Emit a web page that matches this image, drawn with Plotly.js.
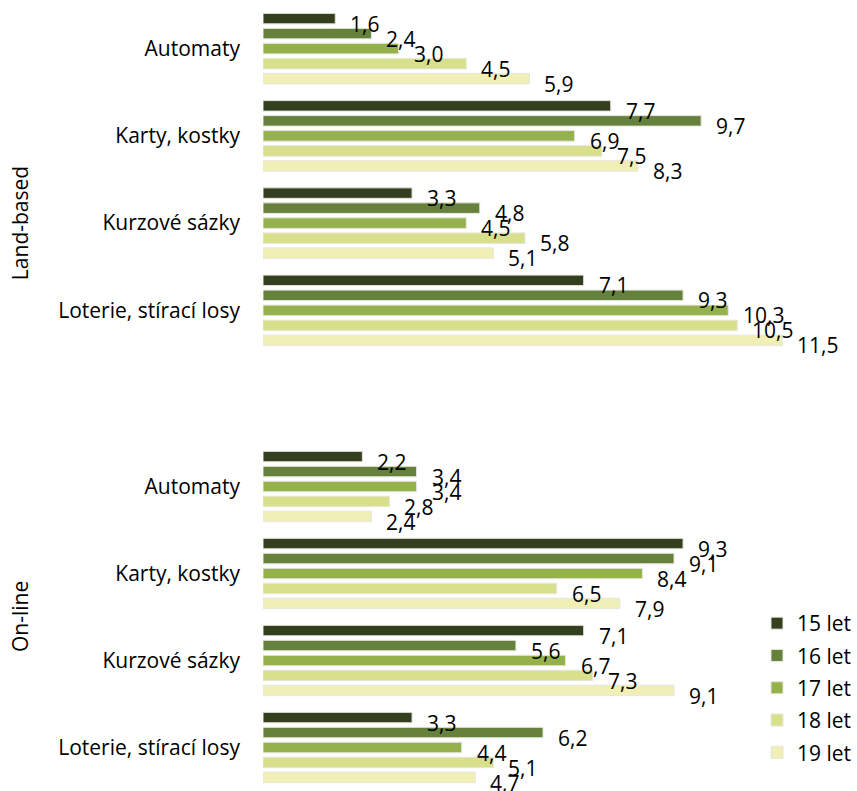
<!DOCTYPE html>
<html>
<head>
<meta charset="utf-8">
<script src="https://cdn.plot.ly/plotly-3.0.1.min.js"></script>
<style>html,body{margin:0;padding:0;background:#fff;}#chart{width:857px;height:791px;}</style>
</head>
<body>
<div id="chart"></div>
<script>
const categories = ["Automaty", "Karty, kostky", "Kurzové sázky", "Loterie, stírací losy"];
const seriesNames = ["15 let", "16 let", "17 let", "18 let", "19 let"];
const groupTitles = ["Land-based", "On-line"];

// Land-based values per series (order of categories)
const land15 = [1.6, 7.7, 3.3, 7.1];
const land16 = [2.4, 9.7, 4.8, 9.3];
const land17 = [3.0, 6.9, 4.5, 10.3];
const land18 = [4.5, 7.5, 5.8, 10.5];
const land19 = [5.9, 8.3, 5.1, 11.5];

// On-line values per series
const online15 = [2.2, 9.3, 7.1, 3.3];
const online16 = [3.4, 9.1, 5.6, 6.2];
const online17 = [3.4, 8.4, 6.7, 4.4];
const online18 = [2.8, 6.5, 7.3, 5.1];
const online19 = [2.4, 7.9, 9.1, 4.7];

const colors = ["#333f1e", "#66813c", "#95b14b", "#d8e08c", "#f0efb6"];

const landSeries = [land15, land16, land17, land18, land19];
const onlineSeries = [online15, online16, online17, online18, online19];

const FONT = "Open Sans, Noto Sans, sans-serif";
const FS = 21;
const fmt = v => v.toFixed(1).replace(".", ",");

const traces = [];
const annotations = [];
const groupPitch = 15; // px between bars of one category

[landSeries, onlineSeries].forEach((set, g) => {
  const yref = g === 0 ? "y" : "y2";
  set.forEach((vals, i) => {
    traces.push({
      type: "bar",
      orientation: "h",
      name: seriesNames[i],
      legendgroup: "g" + i,
      showlegend: g === 0,
      x: vals,
      y: categories,
      xaxis: "x",
      yaxis: yref,
      marker: {color: colors[i], line: {color: "#e6e6de", width: 1}},
      hoverinfo: "x+name"
    });
    vals.forEach((v, j) => {
      annotations.push({
        x: v, y: j, xref: "x", yref: yref,
        text: fmt(v), showarrow: false,
        xanchor: "left", yanchor: "middle",
        xshift: 13, yshift: -((i - 2) * groupPitch) - 5,
        font: {family: FONT, size: FS, color: "#000"}
      });
    });
  });
});

annotations.push({
  text: groupTitles[0], xref: "paper", yref: "y domain",
  x: 0, y: 0.375, xshift: -243, textangle: -90,
  showarrow: false, xanchor: "center", yanchor: "middle",
  font: {family: FONT, size: FS, color: "#000"}
});
annotations.push({
  text: groupTitles[1], xref: "paper", yref: "y2 domain",
  x: 0, y: 0.5, xshift: -243, textangle: -90,
  showarrow: false, xanchor: "center", yanchor: "middle",
  font: {family: FONT, size: FS, color: "#000"}
});

const yCommon = {
  type: "category",
  range: [categories.length - 0.5, -0.5],
  showgrid: false, zeroline: false, showline: false,
  ticks: "", ticklabelstandoff: 22,
  tickfont: {family: FONT, size: FS, color: "#000"},
  automargin: false
};

const layout = {
  width: 857, height: 791,
  margin: {l: 263, r: 50, t: 0, b: 0},
  paper_bgcolor: "#fff", plot_bgcolor: "#fff",
  barmode: "group", bargap: 0.14, bargroupgap: 0.3,
  font: {family: FONT, size: FS, color: "#000"},
  xaxis: {range: [0, 12], visible: false, showgrid: false, zeroline: false, fixedrange: true},
  yaxis: Object.assign({}, yCommon, {domain: [1 - 354 / 791, 1 - 5 / 791], anchor: "x"}),
  yaxis2: Object.assign({}, yCommon, {domain: [0, 1 - 443 / 791], anchor: "x"}),
  showlegend: true,
  legend: {
    x: (759 - 263) / 544, xanchor: "left",
    y: 1 - 603 / 791, yanchor: "top",
    traceorder: "grouped", tracegroupgap: 2,
    font: {family: FONT, size: FS, color: "#000"},
    bgcolor: "rgba(0,0,0,0)"
  },
  annotations: annotations
};

Plotly.newPlot("chart", traces, layout, {displayModeBar: false, staticPlot: true});
</script>
</body>
</html>
